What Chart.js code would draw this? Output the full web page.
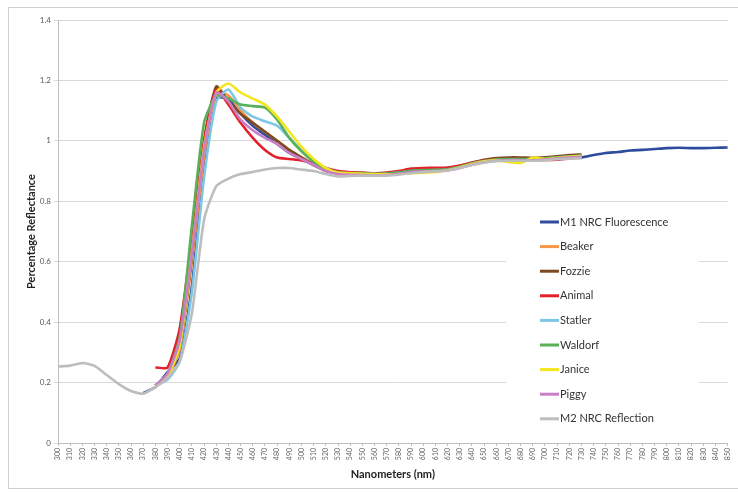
<!DOCTYPE html>
<html><head><meta charset="utf-8">
<script src="https://cdn.jsdelivr.net/npm/chart.js@4.4.1/dist/chart.umd.min.js"></script>
<style>html,body{margin:0;padding:0;background:#fff;}canvas{display:block;}</style>
</head><body>
<canvas id="c" width="738" height="492"></canvas>
<script>
const labels = ["300","310","320","330","340","350","360","370","380","390","400","410","420","430","440","450","460","470","480","490","500","510","520","530","540","550","560","570","580","590","600","610","620","630","640","650","660","670","680","690","700","710","720","730","740","750","760","770","780","790","800","810","820","830","840","850"];
const yTicks = [0,0.2,0.4,0.6,0.8,1,1.2,1.4];

// M1 NRC Fluorescence: 370..850
const m1 = [0.165,0.185,0.235,0.28,0.52,0.92,1.14,1.14,1.09,1.05,1.02,0.99,0.96,0.94,0.92,0.9,0.893,0.892,0.891,0.89,0.891,0.895,0.9,0.902,0.903,0.905,0.913,0.924,0.932,0.937,0.939,0.939,0.938,0.94,0.942,0.944,0.945,0.953,0.96,0.963,0.968,0.97,0.973,0.976,0.977,0.976,0.976,0.977,0.978];
// Muppets: 380..730
const beaker = [0.19,0.22,0.31,0.6,0.95,1.16,1.15,1.1,1.06,1.03,1.0,0.97,0.945,0.925,0.905,0.895,0.893,0.892,0.891,0.892,0.896,0.902,0.904,0.905,0.907,0.915,0.926,0.934,0.939,0.941,0.941,0.94,0.943,0.947,0.95,0.952];
const fozzie = [0.19,0.22,0.32,0.62,1.0,1.18,1.13,1.09,1.06,1.03,1.0,0.97,0.945,0.92,0.905,0.896,0.895,0.894,0.892,0.893,0.897,0.903,0.905,0.906,0.908,0.917,0.928,0.937,0.943,0.945,0.945,0.944,0.946,0.949,0.953,0.955];
const animal = [0.25,0.25,0.38,0.68,1.0,1.17,1.12,1.06,1.01,0.97,0.945,0.94,0.935,0.925,0.91,0.9,0.896,0.894,0.893,0.895,0.9,0.908,0.91,0.911,0.912,0.918,0.927,0.935,0.938,0.94,0.94,0.938,0.937,0.938,0.942,0.945];
const statler = [0.19,0.21,0.27,0.5,0.88,1.13,1.17,1.11,1.08,1.065,1.05,1.01,0.97,0.935,0.91,0.895,0.892,0.891,0.89,0.891,0.895,0.9,0.902,0.903,0.905,0.913,0.924,0.932,0.937,0.939,0.939,0.938,0.941,0.945,0.948,0.95];
const waldorf = [0.19,0.23,0.35,0.72,1.06,1.15,1.14,1.12,1.115,1.11,1.07,1.01,0.965,0.93,0.905,0.895,0.893,0.892,0.891,0.892,0.896,0.901,0.903,0.904,0.906,0.914,0.925,0.933,0.938,0.94,0.94,0.939,0.942,0.946,0.949,0.951];
const janice = [0.19,0.22,0.32,0.63,0.98,1.16,1.19,1.16,1.14,1.12,1.08,1.03,0.98,0.94,0.91,0.895,0.893,0.891,0.89,0.889,0.89,0.893,0.895,0.897,0.903,0.912,0.923,0.932,0.936,0.93,0.927,0.945,0.94,0.944,0.947,0.95];
const piggy = [0.19,0.23,0.34,0.63,0.97,1.16,1.13,1.07,1.035,1.01,0.99,0.96,0.94,0.92,0.9,0.89,0.888,0.887,0.886,0.887,0.891,0.897,0.899,0.9,0.902,0.91,0.921,0.929,0.934,0.936,0.936,0.935,0.938,0.942,0.945,0.947];
// M2 NRC Reflection: 300..730
const m2 = [0.253,0.256,0.265,0.255,0.225,0.195,0.172,0.163,0.185,0.215,0.27,0.43,0.74,0.85,0.875,0.89,0.897,0.905,0.91,0.91,0.905,0.9,0.89,0.882,0.884,0.885,0.885,0.885,0.888,0.893,0.897,0.899,0.902,0.91,0.92,0.928,0.933,0.934,0.934,0.934,0.936,0.939,0.941,0.943];

const seriesNames = ["M1 NRC Fluorescence","Beaker","Fozzie","Animal","Statler","Waldorf","Janice","Piggy","M2 NRC Reflection"];
const seriesColors = ["#2f4b9e","#f79646","#7b4a22","#e3202b","#7cc6e6","#58b158","#f3e61c","#c97fc6","#bdbdbd"];

function place(start, vals) {
  const out = new Array(labels.length).fill(null);
  vals.forEach((v, i) => { out[start + i] = v; });
  return out;
}
const seriesData = [place(7, m1), place(8, beaker), place(8, fozzie), place(8, animal), place(8, statler), place(8, waldorf), place(8, janice), place(8, piggy), place(0, m2)];

const datasets = seriesNames.map((n, i) => ({
  label: n, data: seriesData[i], borderColor: seriesColors[i], backgroundColor: seriesColors[i],
  borderWidth: 2.6, pointRadius: 0, tension: 0.2, fill: false, spanGaps: false,
  order: seriesNames.length - 1 - i
}));

const frame = {
  id: 'frame',
  beforeDraw(chart) {
    const c = chart.ctx;
    c.save();
    c.fillStyle = '#fff';
    c.fillRect(0, 0, chart.width, chart.height);
    c.strokeStyle = '#d0d0d0';
    c.lineWidth = 1;
    c.strokeRect(8.5, 7.5, 760, 481);
    c.restore();
  }
};

const boxLegend = {
  id: 'boxLegend',
  afterDatasetsDraw(chart) {
    const c = chart.ctx;
    c.save();
    c.fillStyle = '#fff';
    c.fillRect(506, 208, 193, 224);
    c.font = '11px Lato';
    c.textBaseline = 'middle';
    seriesNames.forEach((n, i) => {
      const y = 222 + i * 24.6;
      c.strokeStyle = seriesColors[i];
      c.lineWidth = 3;
      c.beginPath(); c.moveTo(540, y); c.lineTo(559, y); c.stroke();
      c.fillStyle = '#333';
      c.fillText(n, 560, y);
    });
    c.restore();
  }
};

new Chart(document.getElementById('c'), {
  type: 'line',
  data: { labels, datasets },
  plugins: [frame, boxLegend],
  options: {
    responsive: false, animation: false,
    layout: { padding: { left: 0, right: 3, top: 20, bottom: 0 } },
    plugins: { legend: { display: false }, tooltip: { enabled: false } },
    scales: {
      x: {
        offset: false,
        afterFit(s) { s.height = 49; },
        grid: { drawOnChartArea: false, drawTicks: true, tickLength: 3, color: '#bfbfbf' },
        border: { color: '#bfbfbf' },
        ticks: { autoSkip: false, minRotation: 90, maxRotation: 90, padding: 2, color: '#666', font: { family: 'Lato', size: 7 } },
        title: { display: true, text: 'Nanometers (nm)', color: '#222', font: { family: 'Lato', size: 11, weight: 'bold' }, padding: { top: 0, bottom: 11 } }
      },
      y: {
        min: 0, max: 1.4,
        afterFit(s) { s.width = 58; },
        afterBuildTicks(s) { s.ticks = yTicks.map(v => ({ value: v })); },
        grid: { color: '#d9d9d9', tickLength: 4, drawTicks: true },
        border: { color: '#bfbfbf' },
        ticks: { padding: 3, color: '#595959', font: { family: 'Lato', size: 8 }, callback: v => String(+(+v).toFixed(1)) },
        title: { display: true, text: 'Percentage Reflectance', color: '#222', font: { family: 'Lato', size: 11, weight: 'bold' }, padding: { top: 25, bottom: 0 } }
      }
    }
  }
});
</script>
</body></html>
